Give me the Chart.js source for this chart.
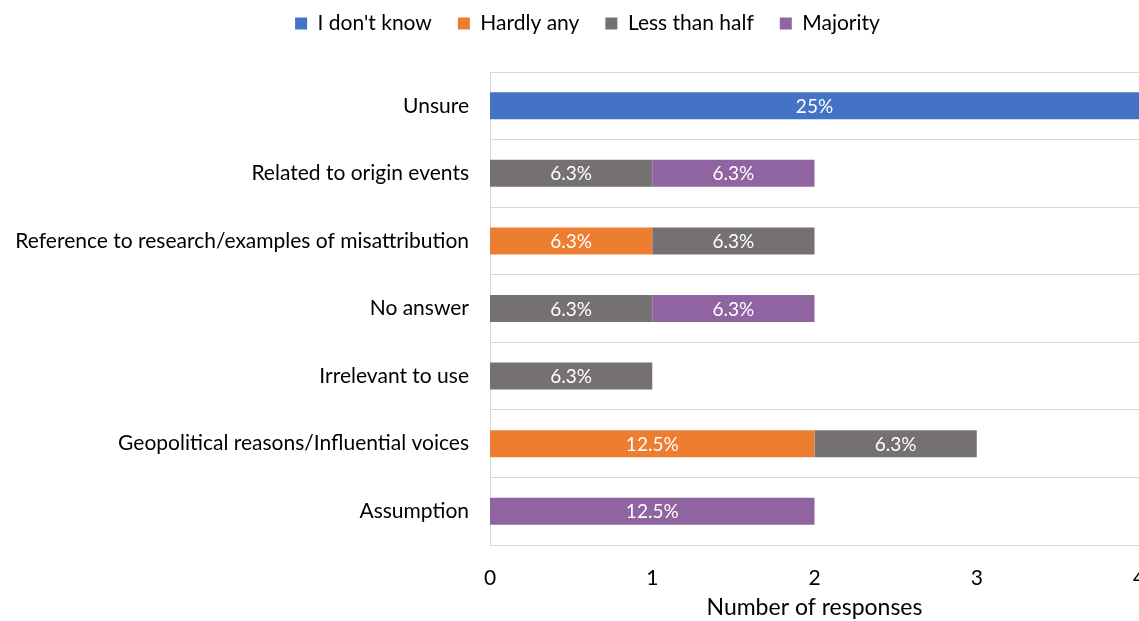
<!DOCTYPE html>
<html>
<head>
<meta charset="utf-8">
<script src="https://cdn.jsdelivr.net/npm/chart.js@4.4.1/dist/chart.umd.min.js"></script>
<style>
  html, body { margin: 0; padding: 0; background: #fff; overflow: hidden; }
  #wrap { position: relative; width: 1139px; height: 639px; margin-top: -18px; }
</style>
</head>
<body>
<div id="wrap"><canvas id="grafica"></canvas></div>
<script>
// Datos
const categorias = [
  'Unsure',
  'Related to origin events',
  'Reference to research/examples of misattribution',
  'No answer',
  'Irrelevant to use',
  'Geopolitical reasons/Influential voices',
  'Assumption'
];
const noSe        = [4, 0, 0, 0, 0, 0, 0];
const casiNinguno = [0, 0, 1, 0, 0, 2, 0];
const menosMitad  = [0, 1, 1, 1, 1, 1, 0];
const mayoria     = [0, 1, 0, 1, 0, 0, 2];

const etiquetasNoSe        = ['25%', '', '', '', '', '', ''];
const etiquetasCasiNinguno = ['', '', '6.3%', '', '', '12.5%', ''];
const etiquetasMenosMitad  = ['', '6.3%', '6.3%', '6.3%', '6.3%', '6.3%', ''];
const etiquetasMayoria     = ['', '6.3%', '', '6.3%', '', '', '12.5%'];

const ticksX = [0, 1, 2, 3, 4];

const fuente = 'Lato, "Open Sans", sans-serif';

// Etiquetas blancas centradas dentro de cada tramo
const etiquetasBarras = {
  id: 'etiquetasBarras',
  afterDatasetsDraw(chart) {
    const ctx = chart.ctx;
    ctx.save();
    ctx.fillStyle = '#ffffff';
    ctx.font = '19px ' + fuente;
    ctx.textAlign = 'center';
    ctx.textBaseline = 'middle';
    chart.data.datasets.forEach((ds, i) => {
      const meta = chart.getDatasetMeta(i);
      meta.data.forEach((barra, j) => {
        const txt = ds.etiquetas[j];
        if (!txt || !ds.data[j]) return;
        ctx.fillText(txt, (barra.x + barra.base) / 2, barra.y + 1);
      });
    });
    ctx.restore();
  }
};

// Leyenda: altura fija y un pequeño desplazamiento
const ajusteLeyenda = {
  id: 'ajusteLeyenda',
  afterInit(chart) {
    const leyenda = chart.legend;
    const fitOriginal = leyenda.fit;
    const drawOriginal = leyenda.draw;
    leyenda.fit = function () {
      fitOriginal.call(this);
      this.height = 90;
    };
    leyenda.draw = function () {
      this.left += 18; this.right += 18; this.top += 5;
      drawOriginal.call(this);
      this.left -= 18; this.right -= 18; this.top -= 5;
    };
  }
};

new Chart(document.getElementById('grafica'), {
  type: 'bar',
  data: {
    labels: categorias,
    datasets: [
      { label: "I don't know", data: noSe, etiquetas: etiquetasNoSe, backgroundColor: '#4472C4' },
      { label: 'Hardly any', data: casiNinguno, etiquetas: etiquetasCasiNinguno, backgroundColor: '#ED7D31' },
      { label: 'Less than half', data: menosMitad, etiquetas: etiquetasMenosMitad, backgroundColor: '#767171' },
      { label: 'Majority', data: mayoria, etiquetas: etiquetasMayoria, backgroundColor: '#8F64A0' }
    ]
  },
  options: {
    indexAxis: 'y',
    responsive: true,
    maintainAspectRatio: false,
    animation: false,
    datasets: { bar: { barPercentage: 0.8, categoryPercentage: 0.5 } },
    layout: { padding: 0 },
    plugins: {
      legend: {
        position: 'top',
        labels: {
          boxWidth: 12,
          boxHeight: 12,
          padding: 26,
          color: '#000',
          font: { family: fuente, size: 21 }
        }
      },
      tooltip: { enabled: false }
    },
    scales: {
      x: {
        stacked: true,
        min: 0,
        max: 4,
        afterBuildTicks(scale) { scale.ticks = ticksX.map(v => ({ value: v })); },
        afterFit(scale) { scale.paddingRight = 0; scale.paddingLeft = 0; scale.height = 76; },
        grid: { display: false, drawTicks: false },
        border: { display: false },
        ticks: { color: '#000', padding: 21, maxRotation: 0, font: { family: fuente, size: 21 } },
        title: {
          display: true,
          text: 'Number of responses',
          color: '#000',
          padding: { top: 5, bottom: 0 },
          font: { family: fuente, size: 23 }
        }
      },
      y: {
        stacked: true,
        afterFit(scale) { scale.width = 490; },
        grid: { color: '#D9D9D9', drawTicks: false },
        border: { color: '#D9D9D9' },
        ticks: { color: '#000', padding: 21, font: { family: fuente, size: 21 } }
      }
    }
  },
  plugins: [etiquetasBarras, ajusteLeyenda]
});
</script>
</body>
</html>
